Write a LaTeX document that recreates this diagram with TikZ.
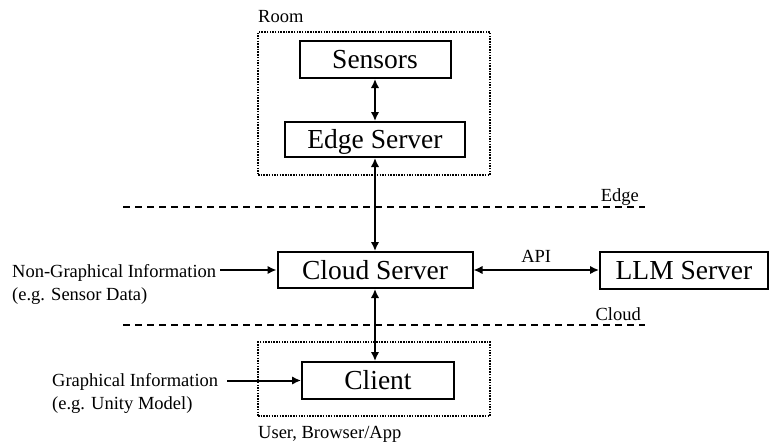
\documentclass[tikz,border=0pt]{standalone}
\usepackage{fontspec}
\setmainfont{Liberation Serif}
\usetikzlibrary{arrows.meta}
\begin{document}
\begin{tikzpicture}[x=1pt,y=-1pt,
  box/.style={draw,line width=2pt,inner sep=0pt,font=\fontsize{27.5}{30}\selectfont,text height=18pt,text depth=0pt},
  lbl/.style={inner sep=0pt,font=\fontsize{18.5}{23}\selectfont},
  zone/.style={draw,line width=1.6pt,dash pattern=on 1.5pt off 1.2pt,inner sep=0pt},
  sep/.style={draw,line width=2pt,dash pattern=on 7pt off 5pt},
  link/.style={line width=2pt,{Latex[length=9pt,width=8.5pt]}-{Latex[length=9pt,width=8.5pt]}},
  feed/.style={line width=2pt,-{Latex[length=9pt,width=8.5pt]}}]
\useasboundingbox (0,0) rectangle (770,445);

% zones
\node[zone,minimum width=232pt,minimum height=143pt] (room) at (374,103.5) {};
\node[zone,minimum width=232pt,minimum height=74pt] (userzone) at (374,379) {};
\node[lbl,anchor=base west] (roomlbl) at (258,22) {Room};
\node[lbl,anchor=base west] (userlbl) at (258,438) {User, Browser/App};

% boxes
\node[box,minimum width=151pt,minimum height=37pt] (sensors) at (375,59.5) {Sensors};
\node[box,minimum width=180pt,minimum height=35pt] (edge) at (375,139.5) {Edge Server};
\node[box,minimum width=195pt,minimum height=36pt] (cloud) at (375,270) {Cloud Server};
\node[box,minimum width=168pt,minimum height=37pt] (llm) at (684,270) {LLM Server};
\node[box,minimum width=152pt,minimum height=37pt] (client) at (378,380.5) {Client};

% separators
\coordinate (e1) at (123,207);
\coordinate (e2) at (645,207);
\coordinate (c1) at (123,325);
\coordinate (c2) at (645,325);
\draw[sep] (e1) -- (e2);
\draw[sep] (c1) -- (c2);
\node[lbl,anchor=base east] (edgelbl) at (639,201) {Edge};
\node[lbl,anchor=base east] (cloudlbl) at (641,320) {Cloud};

% links
\draw[link] (sensors.south) -- (edge.north);
\draw[link] (edge.south) -- (cloud.north);
\draw[link] (cloud.south) -- (cloud.south |- client.north);
\draw[link] (cloud.east) -- node[lbl,above=7pt] (api) {API} (llm.west);

% inputs
\node[lbl,anchor=north west,align=left] (ngi) at (12,264.4) {Non-Graphical Information\\(e.g. Sensor Data)};
\node[lbl,anchor=north west,align=left] (gi) at (52,373.4) {Graphical Information\\(e.g. Unity Model)};
\coordinate (ngiA) at (220,270);
\coordinate (giA) at (227,380.5);
\draw[feed] (ngiA) -- (cloud.west);
\draw[feed] (giA) -- (client.west);
\end{tikzpicture}
\end{document}
